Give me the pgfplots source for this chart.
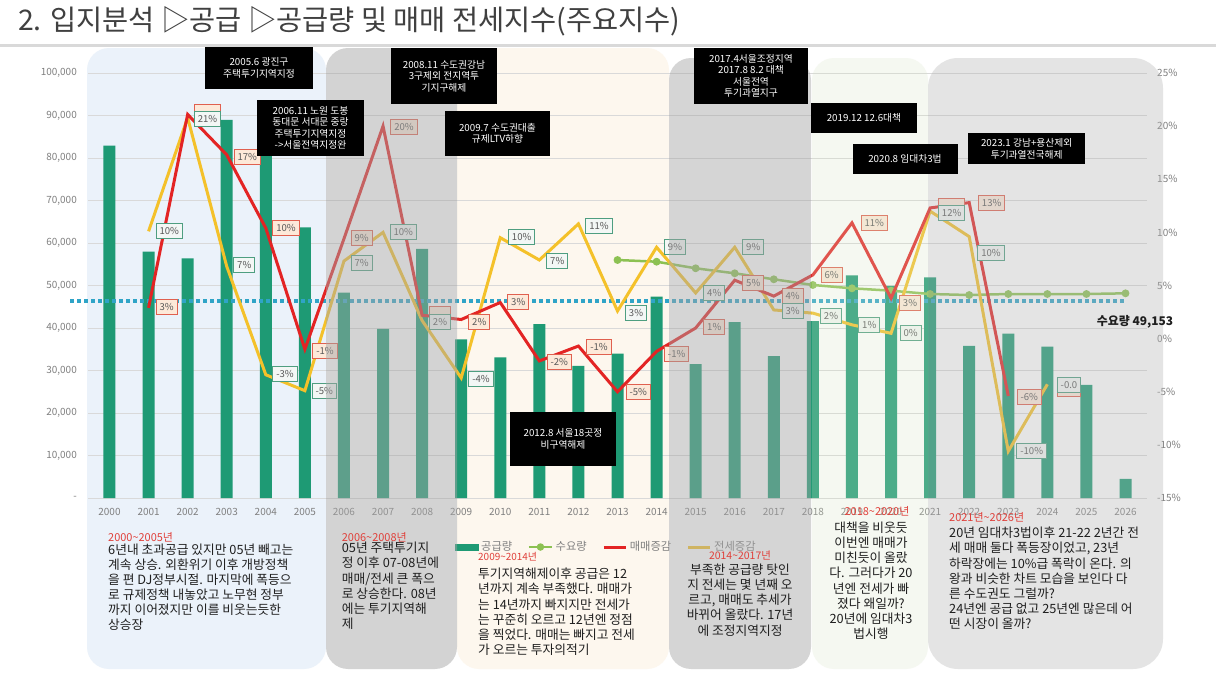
\documentclass[border=0pt]{standalone}
\usepackage{pgfplots}
\pgfplotsset{compat=1.18}
\usepackage{fontspec}
\setmainfont{Noto Sans CJK KR}
\definecolor{barc}{HTML}{1E9A74}
\definecolor{redl}{HTML}{E32424}
\definecolor{yell}{HTML}{F4C12A}
\definecolor{grnl}{HTML}{8CC152}
\definecolor{dotc}{HTML}{2FA4C7}
\definecolor{tickc}{HTML}{7F7F7F}
\definecolor{gridc}{HTML}{D9D9D9}
\definecolor{rbord}{HTML}{E0604F}
\definecolor{rfill}{HTML}{FDE9D9}
\definecolor{gbord}{HTML}{4E9E80}
\definecolor{gfill}{HTML}{F3F7F5}
\definecolor{labt}{HTML}{595959}
\definecolor{hdr}{HTML}{E0403A}
\definecolor{txt}{HTML}{1F1F1F}
\definecolor{pone}{HTML}{EBF2FA}
\definecolor{pthree}{HTML}{FDF7EE}
\definecolor{ovgray}{HTML}{A5A5A5}
\definecolor{ovgray2}{HTML}{B4B4B4}
\definecolor{ovgreen}{HTML}{D8E4C8}
\tikzset{
 rbox/.style={draw=rbord, fill=rfill, line width=0.9bp, text=labt, font=\fontsize{9.6}{10}\selectfont, inner xsep=3.5bp, inner ysep=2bp, minimum height=15bp},
 gbox/.style={draw=gbord, fill=gfill, line width=0.9bp, text=labt, font=\fontsize{9.6}{10}\selectfont, inner xsep=3.5bp, inner ysep=2bp, minimum height=15bp},
 abox/.style={fill=black, text=white, font=\fontsize{9.8}{11.5}\selectfont, align=center, inner sep=0pt},
 body/.style={text=txt, font=\fontsize{12.8}{15.2}\selectfont, inner sep=0pt},
 head/.style={text=hdr, font=\fontsize{11}{13}\selectfont, inner sep=0pt},
}
\begin{document}
\begin{tikzpicture}
\path[use as bounding box] (0,0) rectangle (1216bp,-684bp);
\begin{scope}[x=1bp,y=-1bp]
 \fill[white] (0,0) rectangle (1216,684);
 \node[anchor=west, text=black!75, inner sep=0pt, font=\fontsize{28.5}{32}\selectfont] at (18,21) {2. 입지분석 ▷공급 ▷공급량 및 매매 전세지수(주요지수)};
 \fill[black!15] (0,43.5) rectangle (1216,46.5);
 \fill[pone, rounded corners=22bp] (87,48) rectangle (326,669);
 \fill[pthree, rounded corners=22bp] (457,48) rectangle (669,669);
\end{scope}

\begin{axis}[
  at={(88bp,-498bp)}, anchor=south west,
  scale only axis, width=1059bp, height=425bp,
  xmin=-0.55, xmax=26.55, ymin=0, ymax=100000,
  clip=false,
  axis line style={draw=none},
  major tick length=0pt,
  xtick={0,...,26},
  xticklabels={2000,2001,2002,2003,2004,2005,2006,2007,2008,2009,2010,2011,2012,2013,2014,2015,2016,2017,2018,2019,2020,2021,2022,2023,2024,2025,2026},
  ytick={0,10000,20000,30000,40000,50000,60000,70000,80000,90000,100000},
  yticklabels={-,{10,000},{20,000},{30,000},{40,000},{50,000},{60,000},{70,000},{80,000},{90,000},{100,000}},
  scaled y ticks=false,
  ymajorgrids, grid style={draw=gridc, line width=0.8bp},
  tick label style={font=\fontsize{10}{12}\selectfont, text=tickc, inner sep=0pt},
  xticklabel style={anchor=center, yshift=-14bp},
  yticklabel style={anchor=east, xshift=-11bp},
]
\addplot[ybar, bar width=12bp, fill=barc, draw=none] coordinates {
 (0,82900) (1,58000) (2,56400) (3,89000) (4,82000) (5,63700) (6,48300) (7,39800) (8,58600)
 (9,37300) (10,33100) (11,40900) (12,31100) (13,34000) (14,47400) (15,31500) (16,41400)
 (17,33400) (18,41600) (19,52400) (20,49900) (21,51900) (22,35800) (23,38700) (24,35600)
 (25,26600) (26,4500)};
\addplot[grnl, line width=2.5bp, mark=*, mark size=2.6bp, mark options={fill=grnl, draw=grnl}] coordinates {
 (13,56000) (14,55600) (15,54050) (16,52870) (17,51460) (18,50120) (19,49340) (20,48780)
 (21,48000) (22,47760) (23,48000) (24,48000) (25,48000) (26,48160)};
\addplot[dotc, line width=4bp, dash pattern=on 4bp off 3bp] coordinates {(-1.01,46400) (26,46400)};
\end{axis}

\begin{axis}[
  at={(88bp,-498bp)}, anchor=south west,
  scale only axis, width=1059bp, height=425bp,
  xmin=-0.55, xmax=26.55, ymin=-15, ymax=25,
  axis x line=none, axis y line*=right,
  axis line style={draw=none},
  major tick length=0pt,
  ytick={-15,-10,-5,0,5,10,15,20,25},
  yticklabel={\pgfmathprintnumber{\tick}\%},
  /pgf/number format/assume math mode=true,
  tick label style={font=\fontsize{10}{12}\selectfont, text=tickc, inner sep=0pt},
  yticklabel style={anchor=west, xshift=10bp},
  legend style={at={(0.3466,-0.1153)}, anchor=west, draw=none, fill=none, inner sep=0pt,
    legend columns=4, font=\fontsize{11.3}{13}\selectfont, text=tickc,
    nodes={inner xsep=2.5bp},
    /tikz/every even column/.append style={column sep=13bp}},
  legend cell align=left,
]
\addlegendimage{legend image code/.code={\fill[barc] (0bp,-3bp) rectangle (23bp,3bp);}}
\addlegendentry{공급량}
\addlegendimage{legend image code/.code={\draw[grnl, line width=2.5bp, mark=*, mark size=2.4bp, mark options={fill=grnl, draw=grnl}, mark repeat=2, mark phase=2] plot coordinates {(0bp,0bp) (11.5bp,0bp) (23bp,0bp)};}}
\addlegendentry{수요량}
\addlegendimage{legend image code/.code={\draw[redl, line width=3bp] (0bp,0bp) -- (22bp,0bp);}}
\addlegendentry{매매증감}
\addlegendimage{legend image code/.code={\draw[yell, line width=3bp] (0bp,0bp) -- (22bp,0bp);}}
\addlegendentry{전세증감}
\addplot[yell, line width=3bp, forget plot] coordinates {
 (1,10.1) (2,20.8) (3,6.8) (4,-3.4) (5,-4.9) (6,7.3) (7,10.0) (8,1.7) (9,-3.7) (10,9.5)
 (11,7.4) (12,10.8) (13,2.6) (14,8.6) (15,4.3) (16,8.6) (17,2.7) (18,2.4) (19,1.3) (20,0.5)
 (21,12.0) (22,9.6) (23,-10.6) (24,-4.3)};
\addplot[redl, line width=3bp, forget plot] coordinates {
 (1,2.9) (2,21.1) (3,17.3) (4,10.4) (5,-1.0) (6,9.4) (7,20.0) (8,2.2) (9,1.8) (10,3.4)
 (11,-2.1) (12,-0.7) (13,-5.0) (14,-1.2) (15,1.0) (16,5.5) (17,4.0) (18,6.0) (19,10.9) (20,3.8)
 (21,12.3) (22,12.8) (23,-5.4)};
\end{axis}

\begin{scope}[x=1bp,y=-1bp]
 % data labels
 \node[rbox] at (166.7,306.7) {3\%};
 \node[rbox] at (207.5,111.5) {\phantom{21\%}};
 \node[rbox] at (247.3,156.7) {17\%};
 \node[rbox] at (286,228.3) {10\%};
 \node[rbox] at (325,350.7) {-1\%};
 \node[rbox] at (361.7,238.3) {9\%};
 \node[rbox] at (404,126.7) {20\%};
 \node[rbox] at (440,314) {\phantom{2\%}};
 \node[rbox] at (479.3,321.7) {2\%};
 \node[rbox] at (518.3,301.7) {3\%};
 \node[rbox] at (559.3,362.3) {-2\%};
 \node[rbox] at (599,347.3) {-1\%};
 \node[rbox] at (638.3,391.7) {-5\%};
 \node[rbox] at (676.7,354.3) {-1\%};
 \node[rbox] at (714.3,327.3) {1\%};
 \node[rbox] at (753.3,283.3) {5\%};
 \node[rbox] at (792.7,296) {4\%};
 \node[rbox] at (831.7,275) {6\%};
 \node[rbox] at (874.3,223.3) {11\%};
 \node[rbox] at (910,302.7) {3\%};
 \node[rbox] at (951.7,206) {\phantom{12\%}};
 \node[rbox] at (991.7,202.7) {13\%};
 \node[rbox] at (1029.3,397.3) {-6\%};
 \node[rbox] at (1069,389) {\phantom{-0.0}};
 \node[gbox] at (169.3,231) {10\%};
 \node[gbox] at (207.5,119.2) {21\%};
 \node[gbox] at (244.3,265) {7\%};
 \node[gbox] at (285,374.3) {-3\%};
 \node[gbox] at (324.3,391) {-5\%};
 \node[gbox] at (361.7,262.7) {7\%};
 \node[gbox] at (403.3,231.7) {10\%};
 \node[gbox] at (440,321.7) {2\%};
 \node[gbox] at (481,379.3) {-4\%};
 \node[gbox] at (521.7,237.3) {10\%};
 \node[gbox] at (557.3,260.7) {7\%};
 \node[gbox] at (599,225.7) {11\%};
 \node[gbox] at (636,312.7) {3\%};
 \node[gbox] at (675,247.3) {9\%};
 \node[gbox] at (714.3,293.3) {4\%};
 \node[gbox] at (753.3,247.3) {9\%};
 \node[gbox] at (792.7,310.7) {3\%};
 \node[gbox] at (831,316) {2\%};
 \node[gbox] at (869.3,325) {1\%};
 \node[gbox] at (910.7,333.3) {0\%};
 \node[gbox] at (951.7,213.3) {12\%};
 \node[gbox] at (991,253.3) {10\%};
 \node[gbox] at (1031.7,450.7) {-10\%};
 \node[gbox] at (1069,385) {-0.0};
 % overlay panels
 \fill[ovgray, opacity=0.48, rounded corners=22bp] (326,48) rectangle (457,669);
 \fill[ovgray, opacity=0.46, rounded corners=22bp] (669,58) rectangle (811,669);
 \fill[ovgreen, opacity=0.25, rounded corners=22bp] (812,58) rectangle (928,669);
 \fill[ovgray2, opacity=0.35, rounded corners=30bp] (928,58) rectangle (1163,669);
 % annotation boxes
 \node[abox, minimum width=108bp, minimum height=42bp] at (259,68) {2005.6 광진구\\주택투기지역지정};
 \node[abox, minimum width=107bp, minimum height=56bp] at (310.5,128) {2006.11 노원 도봉\\동대문 서대문 중랑\\주택투기지역지정\\->서울전역지정완};
 \node[abox, minimum width=105bp, minimum height=56bp] at (444,76) {2008.11 수도권강남\\3구제외 전지역투\\기지구해제};
 \node[abox, minimum width=105bp, minimum height=45bp] at (497.5,133.3) {2009.7 수도권대출\\규제LTV하향};
 \node[abox, minimum width=106bp, minimum height=54bp] at (563,438.7) {2012.8 서울18곳정\\비구역해제};
 \node[abox, minimum width=114bp, minimum height=56bp] at (751,76) {2017.4서울조정지역\\2017.8 8.2 대책\\서울전역\\투기과열지구};
 \node[abox, minimum width=106bp, minimum height=30bp] at (864,118) {2019.12 12.6대책};
 \node[abox, minimum width=105bp, minimum height=30bp] at (905,159) {2020.8 임대차3법};
 \node[abox, minimum width=117bp, minimum height=31bp] at (1026.7,148.7) {2023.1 강남+용산제외\\투기과열전국해제};
 % demand label
 \node[text=txt, inner sep=0pt, font=\fontsize{12}{14}\selectfont\bfseries] at (1135,322) {수요량 49,153};
 % bottom texts
 \node[head, anchor=west] at (108,537.7) {2000\textasciitilde2005년};
 \node[body, anchor=north west, align=left] at (108,543.5) {6년내 초과공급 있지만 05년 빼고는\\계속 상승. 외환위기 이후 개방정책\\을 편 DJ정부시절. 마지막에 폭등으\\로 규제정책 내놓았고 노무현 정부\\까지 이어졌지만 이를 비웃는듯한\\상승장};
 \node[head, anchor=west] at (341.7,537) {2006\textasciitilde2008년};
 \node[body, anchor=north west, align=left] at (341.7,542) {05년 주택투기지\\정 이후 07-08년에\\매매/전세 큰 폭으\\로 상승한다. 08년\\에는 투기지역해\\제};
 \node[head, anchor=west, font=\fontsize{10}{12}\selectfont] at (478,556.7) {2009\textasciitilde2014년};
 \node[body, anchor=north west, align=left] at (478,568) {투기지역해제이후 공급은 12\\년까지 계속 부족했다. 매매가\\는 14년까지 빠지지만 전세가\\는 꾸준히 오르고 12년엔 정점\\을 찍었다. 매매는 빠지고 전세\\가 오르는 투자의적기};
 \node[head, font=\fontsize{10.5}{12}\selectfont] at (740,555) {2014\textasciitilde2017년};
 \node[body, anchor=north, align=center] at (740,563.7) {부족한 공급량 탓인\\지 전세는 몇 년째 오\\르고, 매매도 추세가\\바뀌어 올랐다. 17년\\에 조정지역지정};
 \node[head] at (877,511.7) {2018\textasciitilde2020년};
 \node[body, anchor=north, align=center] at (871,521.7) {대책을 비웃듯\\이번엔 매매가\\미친듯이 올랐\\다. 그러다가 20\\년엔 전세가 빠\\졌다 왜일까?\\20년에 임대차3\\법시행};
 \node[head, anchor=west] at (949,517.7) {2021년\textasciitilde2026년};
 \node[body, anchor=north west, align=left] at (949,527) {20년 임대차3법이후 21-22 2년간 전\\세 매매 둘다 폭등장이었고, 23년\\하락장에는 10\%급 폭락이 온다. 의\\왕과 비슷한 차트 모습을 보인다 다\\른 수도권도 그럴까?\\24년엔 공급 없고 25년엔 많은데 어\\떤 시장이 올까?};
\end{scope}
\end{tikzpicture}
\end{document}
